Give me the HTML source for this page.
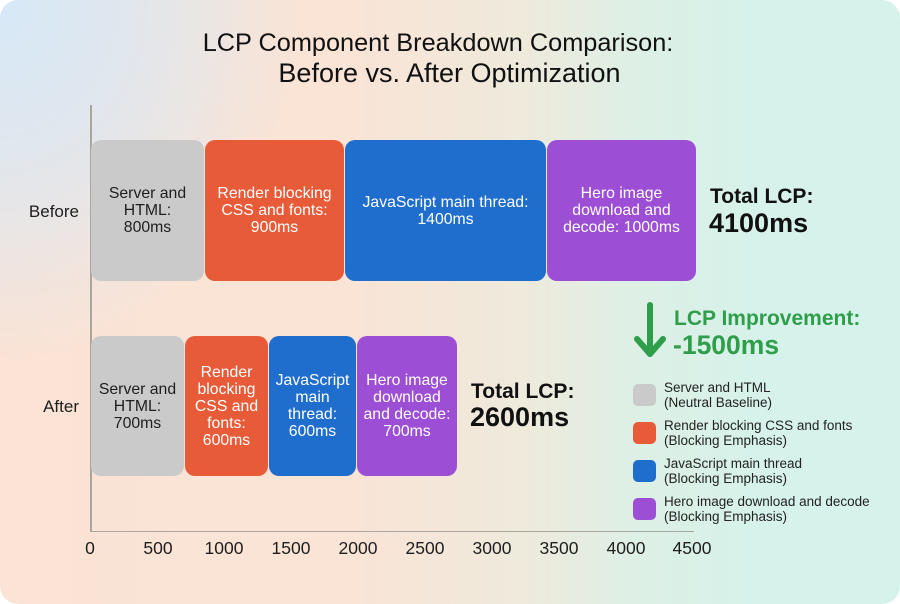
<!DOCTYPE html>
<html><head><meta charset="utf-8">
<style>
html,body{margin:0;padding:0;background:#fff;}
body{width:900px;height:604px;overflow:hidden;position:relative;font-family:"Liberation Sans",Arial,sans-serif;}
#card{position:absolute;left:0;top:0;width:900px;height:604px;border-radius:18px;overflow:hidden;
background:
 radial-gradient(ellipse 300px 360px at 0px 0px, rgba(214,232,247,1) 0%, rgba(216,232,245,0.75) 45%, rgba(216,232,245,0) 100%),
 linear-gradient(90deg, #fbe3d5 0%, #f9e4d6 40%, #eeeadc 58%, #dcf0e6 72%, #d6f2ea 85%, #d6f3eb 100%);}
.t{position:absolute;white-space:nowrap;}
.bar{position:absolute;border-radius:10px;display:flex;align-items:center;justify-content:center;text-align:center;font-size:15.8px;line-height:17px;white-space:nowrap;color:#fff;}
.g{background:#cbcaca;color:#1e1e1e;}
.o{background:#e85b39;}
.b{background:#1f6ecd;}
.p{background:#9c4fd5;}
.tick{position:absolute;top:537px;font-size:17.5px;line-height:22px;color:#1e1e1e;width:80px;text-align:center;}
.sw{position:absolute;left:633px;width:23px;height:22px;border-radius:5px;}
.lg{position:absolute;left:664px;font-size:13.5px;line-height:14.5px;color:#222;white-space:nowrap;}
</style></head><body>
<div id="card">
  <div class="t" style="left:0;width:876px;text-align:center;top:28px;font-size:25.3px;line-height:30px;color:#111;">LCP Component Breakdown Comparison:</div>
  <div class="t" style="left:0;width:899px;text-align:center;top:58px;font-size:27px;line-height:30px;color:#111;">Before vs. After Optimization</div>

  <!-- axes -->
  <div style="position:absolute;left:90px;top:105px;width:1.5px;height:427px;background:#aaa59f;"></div>
  <div style="position:absolute;left:90px;top:530.5px;width:604px;height:1.5px;background:#aaa59f;"></div>

  <div class="t" style="right:821px;top:201px;font-size:17px;line-height:22px;color:#1e1e1e;">Before</div>
  <div class="t" style="right:821px;top:396px;font-size:17px;line-height:22px;color:#1e1e1e;">After</div>

  <!-- before bars -->
  <div class="bar g" style="left:91px;top:140px;width:113px;height:141px;">Server and<br>HTML:<br>800ms</div>
  <div class="bar o" style="left:205px;top:140px;width:139px;height:141px;">Render blocking<br>CSS and fonts:<br>900ms</div>
  <div class="bar b" style="left:345px;top:140px;width:201px;height:141px;">JavaScript main thread:<br>1400ms</div>
  <div class="bar p" style="left:547px;top:140px;width:149px;height:141px;">Hero image<br>download and<br>decode: 1000ms</div>

  <!-- after bars -->
  <div class="bar g" style="left:91px;top:336px;width:93px;height:140px;">Server and<br>HTML:<br>700ms</div>
  <div class="bar o" style="left:185px;top:336px;width:83px;height:140px;">Render<br>blocking<br>CSS and<br>fonts:<br>600ms</div>
  <div class="bar b" style="left:269px;top:336px;width:87px;height:140px;">JavaScript<br>main<br>thread:<br>600ms</div>
  <div class="bar p" style="left:357px;top:336px;width:100px;height:140px;">Hero image<br>download<br>and decode:<br>700ms</div>

  <!-- totals -->
  <div class="t" style="left:710px;top:183px;font-size:21px;line-height:28px;font-weight:bold;color:#111;">Total LCP:</div>
  <div class="t" style="left:709px;top:207px;font-size:27px;line-height:32px;font-weight:bold;color:#111;">4100ms</div>
  <div class="t" style="left:471px;top:378px;font-size:21px;line-height:28px;font-weight:bold;color:#111;">Total LCP:</div>
  <div class="t" style="left:470px;top:401px;font-size:27px;line-height:32px;font-weight:bold;color:#111;">2600ms</div>

  <!-- improvement -->
  <svg style="position:absolute;left:630px;top:298px;" width="40" height="64" viewBox="0 0 40 64">
    <g stroke="#2f9e4b" stroke-width="6" stroke-linecap="round" stroke-linejoin="round" fill="none">
      <line x1="20" y1="7" x2="20" y2="56"/>
      <polyline points="7,41 20,56 33,41"/>
    </g>
  </svg>
  <div class="t" style="left:674px;top:306px;font-size:21px;line-height:26px;font-weight:bold;color:#2f9e4b;">LCP Improvement:</div>
  <div class="t" style="left:673px;top:330px;font-size:26.5px;line-height:31px;font-weight:bold;color:#2f9e4b;">-1500ms</div>

  <!-- legend -->
  <div class="sw" style="top:384px;background:#cbcaca;"></div>
  <div class="lg" style="top:381px;">Server and HTML<br>(Neutral Baseline)</div>
  <div class="sw" style="top:422px;background:#e85b39;"></div>
  <div class="lg" style="top:419px;">Render blocking CSS and fonts<br>(Blocking Emphasis)</div>
  <div class="sw" style="top:460px;background:#1f6ecd;"></div>
  <div class="lg" style="top:457px;">JavaScript main thread<br>(Blocking Emphasis)</div>
  <div class="sw" style="top:498px;background:#9c4fd5;"></div>
  <div class="lg" style="top:495px;">Hero image download and decode<br>(Blocking Emphasis)</div>

  <!-- ticks -->
  <div class="tick" style="left:50px;">0</div>
  <div class="tick" style="left:118px;">500</div>
  <div class="tick" style="left:184px;">1000</div>
  <div class="tick" style="left:251px;">1500</div>
  <div class="tick" style="left:318px;">2000</div>
  <div class="tick" style="left:385px;">2500</div>
  <div class="tick" style="left:452px;">3000</div>
  <div class="tick" style="left:519px;">3500</div>
  <div class="tick" style="left:586px;">4000</div>
  <div class="tick" style="left:652px;">4500</div>
</div>
</body></html>
